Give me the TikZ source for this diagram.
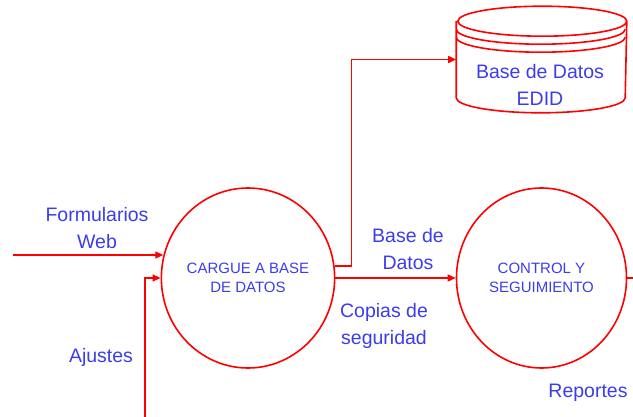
\documentclass[tikz,border=0pt]{standalone}
\usepackage{fontspec}
\setmainfont{Liberation Sans}
\usetikzlibrary{arrows.meta,shapes.geometric}

\definecolor{dfdred}{RGB}{255,0,0}
\definecolor{dfdblue}{RGB}{60,60,235}

\begin{document}
\begin{tikzpicture}[x=1pt, y=-1pt, ->, >={Triangle[length=8pt,width=7pt]}, line width=1.6pt, node distance=293.5pt,
  process/.style={ellipse, draw=dfdred, minimum width=170pt, minimum height=180pt, inner sep=0pt, align=center, text=dfdblue, font=\fontsize{15}{19}\selectfont},
  store/.style={rectangle, minimum width=169pt, minimum height=105pt, inner sep=0pt},
  flow/.style={draw=dfdred},
  lbl/.style={align=center, text=dfdblue, font=\fontsize{19.5}{27}\selectfont}]

\useasboundingbox (0,0) rectangle (633,417);

\node [process] (cargue) at (248,278) {CARGUE A BASE\\DE DATOS};
\node [process] (control) [right of=cargue] {CONTROL Y\\SEGUIMIENTO};
\node [store] (edid) [above of=control, node distance=218.5pt] {};

\coordinate (fw) at (13,255);
\coordinate (aj) at (145,417);
\coordinate (rep) at (633,278);

% data store: body, lid and the two rings under the lid
\draw [dfdred, -] ([yshift=-15pt]edid.north west) -- ([yshift=15pt]edid.south west)
  arc [start angle=180, end angle=360, x radius=84.5pt, y radius=15pt]
  -- ([yshift=-15pt]edid.north east)
  arc [start angle=0, end angle=360, x radius=84.5pt, y radius=15pt];
\draw [dfdred, -] ([yshift=-23pt]edid.north west) arc [start angle=180, end angle=360, x radius=84.5pt, y radius=15pt];
\draw [dfdred, -] ([yshift=-31pt]edid.north west) arc [start angle=180, end angle=360, x radius=84.5pt, y radius=15pt];

\draw [flow] (fw) -- (fw -| cargue.165);
\draw [flow] (aj) |- (cargue.west);
\draw [flow] (cargue.8) -- ++(17,0) |- (edid.west);
\draw [flow] (cargue.east) -- (control.west);
\draw [flow, -] (control.east) -- (rep);

\node [lbl] (lfw) at (97,228) {Formularios\\Web};
\node [lbl] (laj) at (101,357) {Ajustes};
\node [lbl] (lbd) at (408,249.5) {Base de\\Datos};
\node [lbl] (lcs) at (384,325.5) {Copias de\\seguridad};
\node [lbl] (lrep) at (588,393) {Reportes};
\node [lbl] (ledid) at (540,84.5) {Base de Datos\\EDID};
\end{tikzpicture}
\end{document}
